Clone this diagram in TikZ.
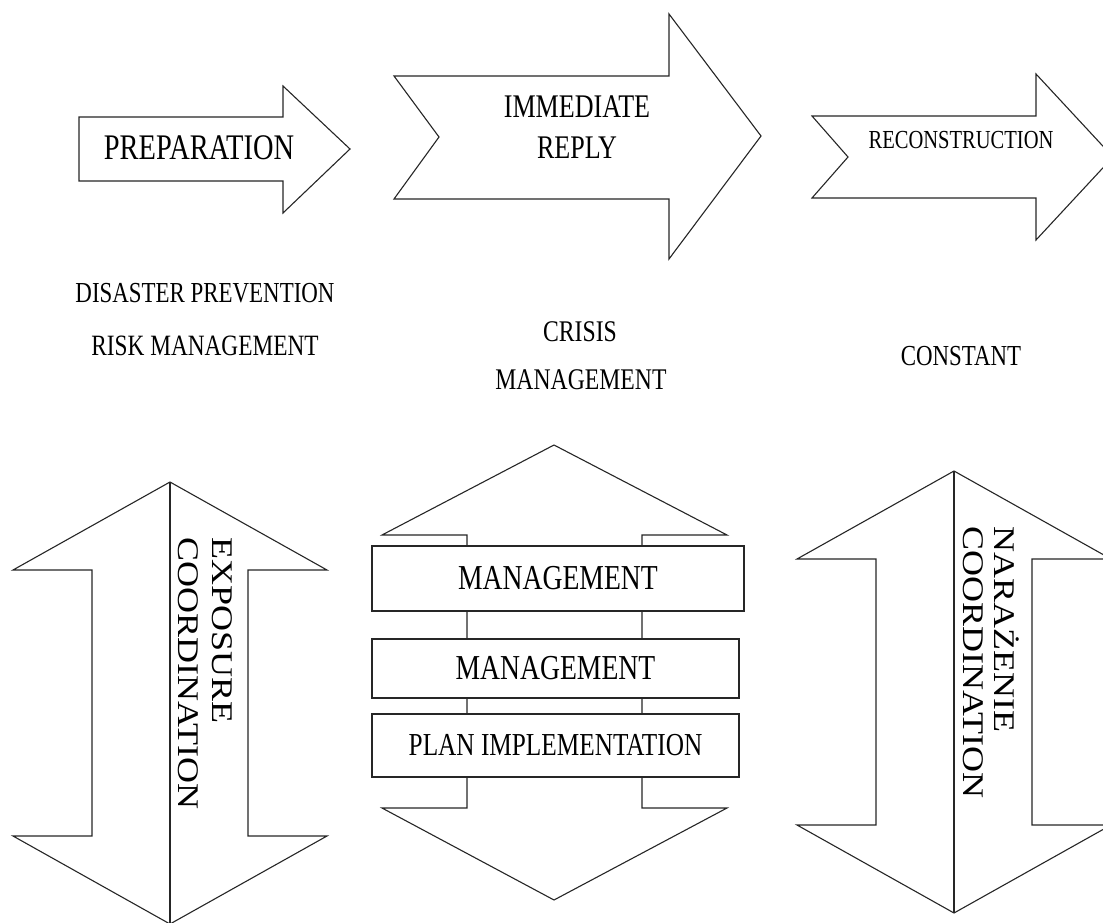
\documentclass[tikz,border=0pt]{standalone}
\usepackage{fontspec}
\setmainfont{Liberation Serif}
\newfontfamily\narrowfont[FakeStretch=0.79]{Liberation Serif}
\newfontfamily\tallfont[FakeStretch=1.2]{Liberation Serif}
\begin{document}
\begin{tikzpicture}[x=1pt,y=-1pt,
	arrowshape/.style={draw=black!85, line width=1.1pt, fill=white},
	txt/.style={inner sep=0pt, font={\narrowfont\fontsize{#1}{#1}\selectfont}},
	sidetxt/.style={inner sep=0pt, anchor=west, rotate=-90, font={\tallfont\fontsize{30}{30}\selectfont}},
	box/.style={arrowshape, minimum height=#1, inner sep=0pt}]
		\clip (0,0) rectangle (1103,923);
		% Top arrows
		\draw[arrowshape] (79,117) -- (283,117) -- (283,86) -- (350,149) -- (283,213) -- (283,181) -- (79,181) -- cycle;
		\draw[arrowshape] (394,76) -- (669,76) -- (669,14) -- (761,136) -- (669,259) -- (669,199) -- (394,199) -- (439,137) -- cycle;
		\draw[arrowshape] (812,116) -- (1036,116) -- (1036,74) -- (1113,157) -- (1036,240) -- (1036,198) -- (812,198) -- (848,157) -- cycle;
		\node[txt=36] (prep) at (199,148) {PREPARATION};
		\node[txt=33, align=center, font={\narrowfont\fontsize{33}{41}\selectfont}] (reply) at (577,127) {IMMEDIATE\\REPLY};
		\node[txt=26] (recon) at (961,140) {RECONSTRUCTION};
		% Phase names
		\node[txt=29] (prevent) at (205,293) {DISASTER PREVENTION};
		\node[txt=29.5] (risk) at (205,346) {RISK MANAGEMENT};
		\node[txt=30] (crisis) at (580,332) {CRISIS};
		\node[txt=30] (crisismgmt) at (581,380) {MANAGEMENT};
		\node[txt=29] (constant) at (961,356) {CONSTANT};
		% Side double arrows
		\foreach \cx/\cy in {170/482, 954/471}{
		\draw[arrowshape, shift={(\cx,\cy)}] (0,0) -- (157,88) -- (78,88) -- (78,354) -- (157,354) -- (0,442) -- (-157,354) -- (-78,354) -- (-78,88) -- (-157,88) -- cycle;
		\draw[black!85, line width=1.1pt, shift={(\cx,\cy)}] (0,0) -- (0,442);
		}
		\node[sidetxt] (exposure) at (222,537) {EXPOSURE};
		\node[sidetxt] (coordleft) at (188,537) {COORDINATION};
		\node[sidetxt] (narazenie) at (1007,526) {NARAŻENIE};
		\node[sidetxt] (coordright) at (973,526) {COORDINATION};
		% Middle double arrow
		\draw[arrowshape] (554,445) -- (727,535) -- (642,535) -- (642,808) -- (727,808) -- (554,900) -- (382,808) -- (467,808) -- (467,535) -- (382,535) -- cycle;
		\node[box=65pt, minimum width=372pt, txt=35] (mgmtone) at (558,578.5) {MANAGEMENT};
		\node[box=59pt, minimum width=367pt, txt=35] (mgmttwo) at (555.5,668.5) {MANAGEMENT};
		\node[box=63pt, minimum width=367pt, txt=32] (plan) at (555.5,745.5) {PLAN IMPLEMENTATION};
	\end{tikzpicture}
\end{document}
